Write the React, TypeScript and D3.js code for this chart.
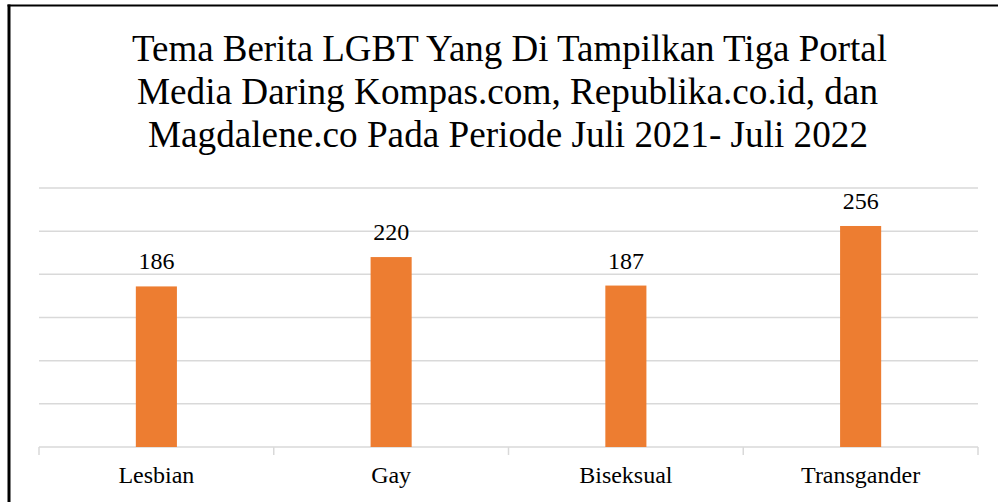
import React, { useRef, useEffect } from "react";
import * as d3 from "d3";

const categories = ["Lesbian", "Gay", "Biseksual", "Transgander"];
const values = [186, 220, 187, 256];
const gridTicks = [0, 50, 100, 150, 200, 250, 300];
const titleLines = [
  "Tema Berita LGBT Yang Di Tampilkan Tiga Portal",
  "Media Daring Kompas.com, Republika.co.id, dan",
  "Magdalene.co Pada Periode Juli 2021- Juli 2022",
];

const W = 998;
const H = 502;
const plot = { left: 39, right: 978, top: 188, bottom: 447 };

// title line layout
const titleX = [132, 137, 148];
const titleLen = [755, 741, 720];
const titleY = [61, 104, 147];

function draw(el: SVGSVGElement) {
  const svg = d3.select(el);
  svg.selectAll("*").remove();

  const x = d3.scaleBand().domain(categories).range([plot.left, plot.right]).padding(0);
  const y = d3.scaleLinear().domain([0, 300]).range([plot.bottom, plot.top]);
  const barW = x.bandwidth() * 0.175;

  // border (no right/bottom edge visible)
  svg.append("line").attr("x1", 9).attr("x2", 9).attr("y1", 4.5).attr("y2", H)
    .attr("stroke", "#000").attr("stroke-width", 3);
  svg.append("line").attr("x1", 7.5).attr("x2", W).attr("y1", 5.5).attr("y2", 5.5)
    .attr("stroke", "#000").attr("stroke-width", 2);

  svg.selectAll("text.title")
    .data(titleLines)
    .join("text")
    .attr("class", "title")
    .attr("x", (_d, i) => titleX[i])
    .attr("y", (_d, i) => titleY[i])
    .attr("textLength", (_d, i) => titleLen[i])
    .attr("lengthAdjust", "spacingAndGlyphs")
    .attr("font-family", "Liberation Serif")
    .attr("font-size", 37)
    .text((d) => d);

  const grid = svg.append("g").attr("stroke", "#d9d9d9").attr("stroke-width", 1.5);
  grid.selectAll("line.h")
    .data(gridTicks)
    .join("line")
    .attr("class", "h")
    .attr("x1", plot.left)
    .attr("x2", plot.right)
    .attr("y1", (d) => y(d))
    .attr("y2", (d) => y(d));
  const bounds = categories.map((c) => x(c) as number).concat([plot.right]);
  grid.selectAll("line.v")
    .data(bounds)
    .join("line")
    .attr("class", "v")
    .attr("x1", (d) => d)
    .attr("x2", (d) => d)
    .attr("y1", plot.bottom)
    .attr("y2", plot.bottom + 8);

  const cx = (c: string) => (x(c) as number) + x.bandwidth() / 2;

  svg.append("g").selectAll("rect")
    .data(categories)
    .join("rect")
    .attr("x", (c) => cx(c) - barW / 2)
    .attr("y", (_c, i) => y(values[i]))
    .attr("width", barW)
    .attr("height", (_c, i) => y(0) - y(values[i]))
    .attr("fill", "#ED7D31");

  svg.append("g").selectAll("text")
    .data(categories)
    .join("text")
    .attr("x", (c) => cx(c))
    .attr("y", (_c, i) => y(values[i]) - 17)
    .attr("text-anchor", "middle")
    .attr("font-family", "Liberation Serif")
    .attr("font-size", 24)
    .text((_c, i) => values[i]);

  svg.append("g").selectAll("text")
    .data(categories)
    .join("text")
    .attr("x", (c) => cx(c))
    .attr("y", 483)
    .attr("text-anchor", "middle")
    .attr("font-family", "Liberation Serif")
    .attr("font-size", 24)
    .text((c) => c);
}

export default function App() {
  const ref = useRef<SVGSVGElement>(null);
  useEffect(() => {
    if (ref.current) draw(ref.current);
  }, []);
  return (
    <svg
      ref={ref}
      width={W}
      height={H}
      style={{ position: "absolute", left: 0, top: 0, background: "#fff" }}
    />
  );
}
